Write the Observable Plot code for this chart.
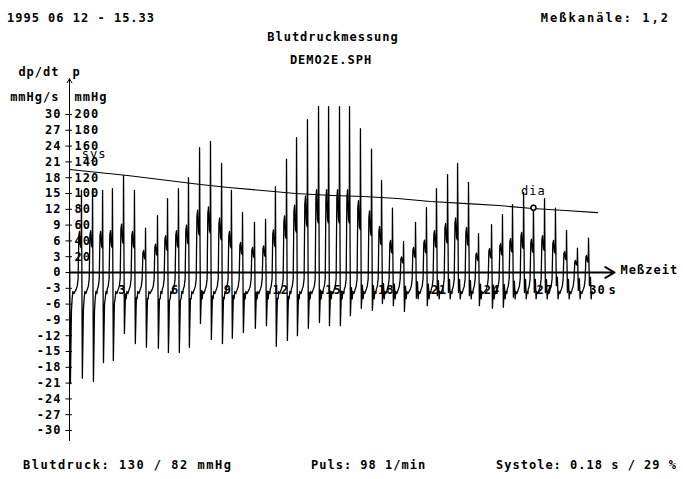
<!DOCTYPE html>
<html>
<head>
<meta charset="utf-8">
<script src="https://cdn.jsdelivr.net/npm/d3@7"></script>
<script src="https://cdn.jsdelivr.net/npm/@observablehq/plot@0.6"></script>
<style>
  html, body { margin: 0; padding: 0; background: #fff; }
  #page { position: relative; width: 683px; height: 479px; overflow: hidden; background: #fff; }
  #page svg { position: absolute; left: 0; top: 0; }
  .t { position: absolute; font-family: "DejaVu Sans Mono", monospace; font-weight: bold; font-size: 12px; letter-spacing: 1px; line-height: 12px; color: #000; white-space: pre; }
</style>
</head>
<body>
<div id="page"></div>
<script>
// ---- data ----
// beat times (s), upper peak and lower trough of each beat (dp/dt scale units)
const beatT = [0.00, 0.68, 1.31, 1.88, 2.44, 3.07, 3.69, 4.32, 5.00, 5.57, 6.19, 6.76, 7.39, 8.01, 8.64, 9.20, 9.83, 10.51, 11.14, 11.70, 12.33, 12.90, 13.52, 14.15, 14.72, 15.34, 15.91, 16.53, 17.16, 17.73, 18.35, 18.98, 19.66, 20.28, 20.85, 21.48, 22.05, 22.67, 23.24, 23.98, 24.60, 25.17, 25.80, 26.36, 26.99, 27.61, 28.24, 28.86, 29.49];
const beatPeak = [7.6, 15.6, 15.9, 15.6, 15.9, 18.4, 15.6, 8.4, 10.8, 14.0, 15.9, 18.0, 23.7, 24.9, 20.7, 15.6, 11.4, 9.5, 10.1, 16.3, 21.5, 25.6, 29.0, 31.5, 31.5, 31.5, 31.5, 27.3, 23.4, 17.5, 12.2, 5.9, 9.5, 12.3, 15.9, 18.6, 20.7, 17.1, 7.4, 9.1, 11.0, 12.9, 15.2, 12.7, 14.0, 12.2, 8.0, 4.6, 6.5];
const beatTrough = [-21.1, -20.1, -20.7, -17.1, -16.7, -11.6, -13.5, -14.2, -14.4, -15.2, -15.2, -14.2, -9.7, -12.7, -13.5, -12.5, -11.4, -10.6, -10.1, -14.0, -12.9, -12.0, -10.6, -9.5, -10.1, -10.1, -8.2, -6.8, -7.2, -5.9, -6.3, -7.4, -4.9, -6.3, -4.4, -3.8, -3.8, -4.4, -6.3, -6.8, -6.6, -4.7, -3.8, -3.8, -3.8, -2.5, -3.8, -3.4, -2.5];

// cuff pressure (mmHg) over time (s)
const cuffT = [0, 3.3, 7.44, 9.03, 10.97, 12.84, 14.94, 16.7, 18.64, 20.51, 22.61, 24.38, 26.31, 28.18, 30];
const cuffP = [130.4, 122.8, 111.4, 107.6, 103.8, 100.0, 97.5, 96.2, 93.7, 89.9, 87.3, 84.8, 81.0, 78.5, 75.9];

// axis ticks
const dpTicks = [30, 27, 24, 21, 18, 15, 12, 9, 6, 3, 0, -3, -6, -9, -12, -15, -18, -21, -24, -27, -30];
const pTickPos = [30, 27, 24, 21, 18, 15, 12, 9, 6, 3];
const pTickLabels = ["200", "180", "160", "140", "120", "100", "80", "60", "40", "20"];
const timeTicks = [3, 6, 9, 12, 15, 18, 21, 24, 27, 30];

// annotations
const sysMark = {t: 1.4, p: 130, label: "sys"};
const diaMark = {t: 26.36, p: 82, label: "dia"};

// texts
const headerLeft = "1995 06 12 - 15.33";
const headerRight = "Meßkanäle: 1,2";
const titleText = "Blutdruckmessung";
const fileText = "DEMO2E.SPH";
const footerTexts = ["Blutdruck: 130 / 82 mmHg", "Puls: 98 1/min", "Systole: 0.18 s / 29 %"];

// ---- build the waveform table from the per-beat values ----
const shapeOffsets = [-0.30, -0.24, -0.19, -0.15, -0.11, -0.06, -0.015, 0.0, 0.05, 0.11, 0.15, 0.19, 0.25];
function shapeValues(P, T) {
  return [-3.2, -2.6, -1.2, 0.45 * P, 0.5 * P, 0.32 * P, 0.3 * P, P, T, 0.35 * T, -5.0, -3.6, -4.0];
}
const wave = [];
beatT.forEach((tb, i) => {
  const vals = shapeValues(beatPeak[i], beatTrough[i]);
  shapeOffsets.forEach((o, k) => {
    const t = tb + o;
    if (t >= 0 && t <= 30) wave.push({t, v: vals[k]});
  });
});
wave.sort((a, b) => a.t - b.t);

const cuff = cuffT.map((t, i) => ({t, v: cuffP[i] * 3 / 20}));
const pTicks = pTickPos.map((v, i) => ({v, label: pTickLabels[i]}));

const font = "DejaVu Sans Mono, monospace";
const chart = Plot.plot({
  width: 683,
  height: 479,
  marginLeft: 69,
  marginRight: 86,
  marginTop: 114,
  marginBottom: 49,
  x: {domain: [0, 30], axis: null},
  y: {domain: [-30, 30], axis: null},
  style: {fontFamily: font, fontSize: "12px", fontWeight: "bold", letterSpacing: "1px", background: "#fff", color: "#000", overflow: "visible"},
  marks: [
    // waveform
    Plot.line(wave, {x: "t", y: "v", stroke: "#000", strokeWidth: 1.3, curve: "linear"}),
    // cuff pressure
    Plot.line(cuff, {x: "t", y: "v", stroke: "#000", strokeWidth: 1.2}),
    // axes
    Plot.arrow([{x1: 0, y1: -31.9, x2: 0, y2: 36.8}], {x1: "x1", y1: "y1", x2: "x2", y2: "y2", stroke: "#000", strokeWidth: 1, headLength: 7, headAngle: 60}),
    Plot.arrow([{x1: 0, y1: 0, x2: 30.97, y2: 0}], {x1: "x1", y1: "y1", x2: "x2", y2: "y2", stroke: "#000", strokeWidth: 2, headLength: 8, headAngle: 60}),
    Plot.ruleY(dpTicks, {y: d => d, x1: -0.2, x2: 0.17, stroke: "#000", strokeWidth: 1}),
    Plot.text(dpTicks, {x: 0, y: d => d, text: d => String(d), textAnchor: "end", dx: -8, fill: "#000"}),
    Plot.text(pTicks, {x: 0, y: "v", text: "label", textAnchor: "start", dx: 5, fill: "#000"}),
    Plot.text(timeTicks, {x: d => d, y: 0, text: d => String(d), dy: 18, fill: "#000"}),
    Plot.text(["s"], {x: 30, y: 0, text: d => d, dx: 15, dy: 18, fill: "#000"}),
    Plot.text(["Meßzeit"], {x: 30.97, y: 0, text: d => d, textAnchor: "start", dx: 6, dy: -2, fill: "#000"}),
    // axis unit labels
    Plot.text(["dp/dt"], {frameAnchor: "top-left", text: d => d, textAnchor: "end", dx: -10, dy: -47, fill: "#000"}),
    Plot.text(["mmHg/s"], {frameAnchor: "top-left", text: d => d, textAnchor: "end", dx: -10, dy: -22, fill: "#000"}),
    Plot.text(["p"], {frameAnchor: "top-left", text: d => d, textAnchor: "start", dx: 3, dy: -47, fill: "#000"}),
    Plot.text(["mmHg"], {frameAnchor: "top-left", text: d => d, textAnchor: "start", dx: 5, dy: -22, fill: "#000"}),
    // annotations
    Plot.text([sysMark], {x: "t", y: d => d.p * 3 / 20, text: "label", dy: -16, fill: "#000", fontWeight: "normal"}),
    Plot.text([diaMark], {x: "t", y: d => d.p * 3 / 20, text: "label", dy: -17, fill: "#000", fontWeight: "normal"}),
    Plot.dot([diaMark], {x: "t", y: d => d.p * 3 / 20, r: 2.5, stroke: "#000", strokeWidth: 1.5, fill: "#fff"})
  ]
});

const page = document.getElementById("page");
page.appendChild(chart);
function addText(txt, css) {
  const d = document.createElement("div");
  d.className = "t";
  d.textContent = txt;
  Object.assign(d.style, css);
  page.appendChild(d);
}
addText(headerLeft, {left: "7px", top: "12px"});
addText(headerRight, {right: "13px", top: "12px", letterSpacing: "2px"});
addText(titleText, {left: "0px", width: "666px", textAlign: "center", top: "31px"});
addText(fileText, {left: "0px", width: "662px", textAlign: "center", top: "54px"});
addText(footerTexts[0], {left: "23px", top: "459px", letterSpacing: "1.5px"});
addText(footerTexts[1], {left: "311px", top: "459px"});
addText(footerTexts[2], {right: "6px", top: "459px"});
</script>
</body>
</html>
